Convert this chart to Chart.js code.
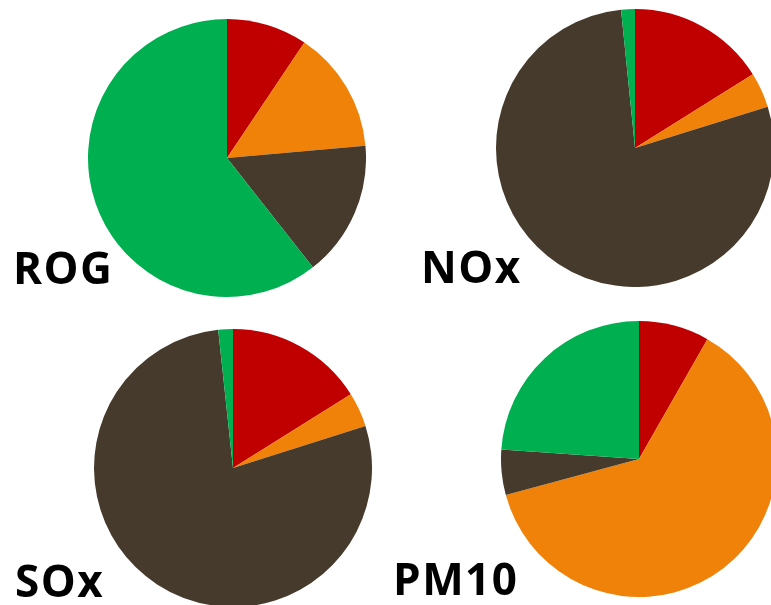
<!DOCTYPE html>
<html>
<head>
<meta charset="utf-8">
<script src="https://cdn.jsdelivr.net/npm/chart.js@4.4.1/dist/chart.umd.min.js"></script>
<style>
  html, body { margin: 0; padding: 0; background: #ffffff; width: 771px; height: 605px; overflow: hidden; }
  body { position: relative; }
  canvas { position: absolute; }
  .lbl { position: absolute; font-family: "Open Sans", sans-serif; font-weight: 700; font-size: 44px; letter-spacing: 1.5px; line-height: 1; color: #000; white-space: nowrap; }
</style>
</head>
<body>
<canvas id="c1" width="278" height="278" style="left:88px;top:19px;"></canvas>
<canvas id="c2" width="278" height="278" style="left:496px;top:9px;"></canvas>
<canvas id="c3" width="278" height="278" style="left:94px;top:329px;"></canvas>
<canvas id="c4" width="276" height="276" style="left:501px;top:321px;"></canvas>
<div class="lbl" id="l1" style="left:13px;top:245px;">ROG</div>
<div class="lbl" id="l2" style="left:421px;top:244px;">NOx</div>
<div class="lbl" id="l3" style="left:15px;top:558px;">SOx</div>
<div class="lbl" id="l4" style="left:393px;top:556px;">PM10</div>
<script>
// Categories (slice order, clockwise from 12 o'clock)
const categories = ["Category 1", "Category 2", "Category 3", "Category 4"];
const sliceColors = ["#C00000", "#F0820A", "#453A2B", "#00B050"];

// Pollutant names (chart labels)
const pollutants = ["ROG", "NOx", "SOx", "PM10"];

// Shares (%) per pollutant
const rogValues  = [9.4, 14.2, 15.8, 60.6];
const noxValues  = [16.1, 4.1, 78.2, 1.6];
const soxValues  = [16.1, 4.0, 78.2, 1.7];
const pm10Values = [8.25, 62.5, 5.3, 23.9];

function makePie(id, values) {
  new Chart(document.getElementById(id), {
    type: 'pie',
    data: {
      labels: categories,
      datasets: [{
        data: values,
        backgroundColor: sliceColors,
        borderWidth: 0
      }]
    },
    options: {
      responsive: false,
      animation: false,
      devicePixelRatio: 1,
      layout: { padding: 0 },
      plugins: { legend: { display: false }, tooltip: { enabled: false }, title: { display: false } }
    }
  });
}

makePie('c1', rogValues);
makePie('c2', noxValues);
makePie('c3', soxValues);
makePie('c4', pm10Values);

document.getElementById('l1').textContent = pollutants[0];
document.getElementById('l2').textContent = pollutants[1];
document.getElementById('l3').textContent = pollutants[2];
document.getElementById('l4').textContent = pollutants[3];
</script>
</body>
</html>
